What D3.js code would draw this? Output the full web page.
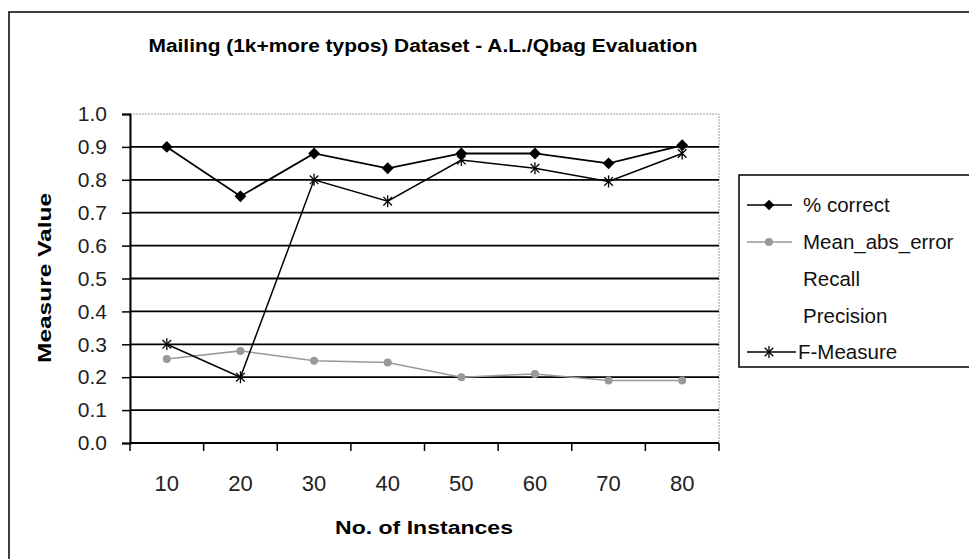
<!DOCTYPE html>
<html><head><meta charset="utf-8">
<script src="https://cdn.jsdelivr.net/npm/d3@7/dist/d3.min.js"></script>
<style>html,body{margin:0;padding:0;background:#fff;}svg{display:block;}</style>
</head><body>
<script>
const categories = ["10","20","30","40","50","60","70","80"];
const pctCorrect = [0.90, 0.75, 0.88, 0.835, 0.88, 0.88, 0.85, 0.905];
const meanAbsError = [0.255, 0.28, 0.25, 0.245, 0.20, 0.21, 0.19, 0.19];
const fMeasure = [0.30, 0.20, 0.80, 0.735, 0.86, 0.835, 0.795, 0.88];
const yTicks = [0,0.1,0.2,0.3,0.4,0.5,0.6,0.7,0.8,0.9,1.0];
const legendLabels = ["% correct","Mean_abs_error","Recall","Precision","F-Measure"];
const title = "Mailing (1k+more typos) Dataset - A.L./Qbag Evaluation";

const W = 969, H = 559;
const svg = d3.select("body").append("svg").attr("width", W).attr("height", H);
const font = "'Liberation Sans', Arial, sans-serif";

// outer frame
svg.append("path").attr("d", `M9,${H+5} L9,12 L${W+5},12`).attr("fill","none").attr("stroke","#000").attr("stroke-width",1.5);

const x = d3.scaleBand().domain(categories).range([130,719]);
const y = d3.scaleLinear().domain([0,1]).range([443,114]);
const cx = c => x(c) + x.bandwidth()/2;

// plot area border (grey)
svg.append("rect").attr("x",130).attr("y",114).attr("width",589).attr("height",329)
  .attr("fill","#fff").attr("stroke","#999").attr("stroke-width",1).attr("stroke-dasharray","2,1");

// gridlines
svg.append("g").selectAll("line").data(yTicks.filter(t => t>0 && t<1)).join("line")
  .attr("x1",130).attr("x2",719).attr("y1",d=>y(d)).attr("y2",d=>y(d))
  .attr("stroke","#000").attr("stroke-width",1.8);

// y axis
const yAxis = d3.axisLeft(y).tickValues(yTicks).tickFormat(d3.format(".1f")).tickSize(8).tickPadding(6);
const gy = svg.append("g").attr("transform","translate(130,0)").call(yAxis);
gy.select(".domain").attr("stroke","#000").attr("stroke-width",2);
gy.selectAll(".tick line").attr("stroke","#000").attr("stroke-width",1.5);
gy.selectAll("text").attr("font-family",font).attr("font-size",21).attr("fill","#222").attr("dx","-9px").attr("text-anchor","end");

// x axis
svg.append("line").attr("x1",130).attr("x2",719).attr("y1",443).attr("y2",443).attr("stroke","#000").attr("stroke-width",2);
const edges = categories.map(c => x(c)).concat([x.range()[1]]);
svg.append("g").selectAll("line").data(edges).join("line")
  .attr("x1",d=>d).attr("x2",d=>d).attr("y1",443).attr("y2",451).attr("stroke","#000").attr("stroke-width",1.5);
svg.append("g").selectAll("text").data(categories).join("text")
  .attr("x",d=>cx(d)).attr("y",491).attr("text-anchor","middle")
  .attr("font-family",font).attr("font-size",22).attr("fill","#222").text(d=>d);

// axis titles
svg.append("text").attr("x",424).attr("y",534).attr("text-anchor","middle")
  .attr("font-family",font).attr("font-size",18).attr("font-weight","bold")
  .attr("textLength",178).attr("lengthAdjust","spacingAndGlyphs").text("No. of Instances");
svg.append("text").attr("transform","translate(51,278) rotate(-90)").attr("text-anchor","middle")
  .attr("font-family",font).attr("font-size",18).attr("font-weight","bold")
  .attr("textLength",170).attr("lengthAdjust","spacingAndGlyphs").text("Measure Value");
svg.append("text").attr("x",423).attr("y",52).attr("text-anchor","middle")
  .attr("font-family",font).attr("font-size",18).attr("font-weight","bold")
  .attr("textLength",549).attr("lengthAdjust","spacingAndGlyphs").text(title);

// series
const line = d3.line().x((d,i)=>cx(categories[i])).y(d=>y(d));
svg.append("path").datum(meanAbsError).attr("d",line).attr("fill","none").attr("stroke","#999").attr("stroke-width",1.5);
svg.append("g").selectAll("circle").data(meanAbsError).join("circle")
  .attr("cx",(d,i)=>cx(categories[i])).attr("cy",d=>y(d)).attr("r",4).attr("fill","#999");

svg.append("path").datum(fMeasure).attr("d",line).attr("fill","none").attr("stroke","#000").attr("stroke-width",1.5);
function drawStar(g, px, py){
  g.append("path").attr("transform",`translate(${px},${py})`).attr("d",d3.symbol().type(d3.symbolTimes).size(50)()).attr("fill","none").attr("stroke","#000").attr("stroke-width",1.3);
  g.append("line").attr("x1",px).attr("x2",px).attr("y1",py-6).attr("y2",py+6).attr("stroke","#000").attr("stroke-width",1.3);
}
const gStars = svg.append("g");
fMeasure.forEach((d,i)=>drawStar(gStars, cx(categories[i]), y(d)));

svg.append("path").datum(pctCorrect).attr("d",line).attr("fill","none").attr("stroke","#000").attr("stroke-width",1.8);
svg.append("g").selectAll("path").data(pctCorrect).join("path")
  .attr("transform",(d,i)=>`translate(${cx(categories[i])},${y(d)})`)
  .attr("d",d3.symbol().type(d3.symbolDiamond2).size(90)()).attr("fill","#000");

// legend
svg.append("rect").attr("x",739).attr("y",175).attr("width",260).attr("height",192)
  .attr("fill","#fff").attr("stroke","#000").attr("stroke-width",1.5);
const ly = [205,242,279,316,352];
const lg = svg.append("g");
legendLabels.forEach((lab,i)=>{
  lg.append("text").attr("x", i===4 ? 798 : 803).attr("y", ly[i]+7).attr("font-family",font).attr("font-size",20.5).attr("fill","#111").text(lab);
});
// legend samples
lg.append("line").attr("x1",747).attr("x2",792).attr("y1",ly[0]).attr("y2",ly[0]).attr("stroke","#000").attr("stroke-width",1.5);
lg.append("path").attr("transform",`translate(769,${ly[0]})`).attr("d",d3.symbol().type(d3.symbolDiamond2).size(70)()).attr("fill","#000");
lg.append("line").attr("x1",747).attr("x2",792).attr("y1",ly[1]).attr("y2",ly[1]).attr("stroke","#999").attr("stroke-width",1.5);
lg.append("circle").attr("cx",769).attr("cy",ly[1]).attr("r",4).attr("fill","#999");
lg.append("line").attr("x1",747).attr("x2",796).attr("y1",ly[4]).attr("y2",ly[4]).attr("stroke","#000").attr("stroke-width",1.5);
drawStar(lg, 769, ly[4]);
</script>
</body></html>
